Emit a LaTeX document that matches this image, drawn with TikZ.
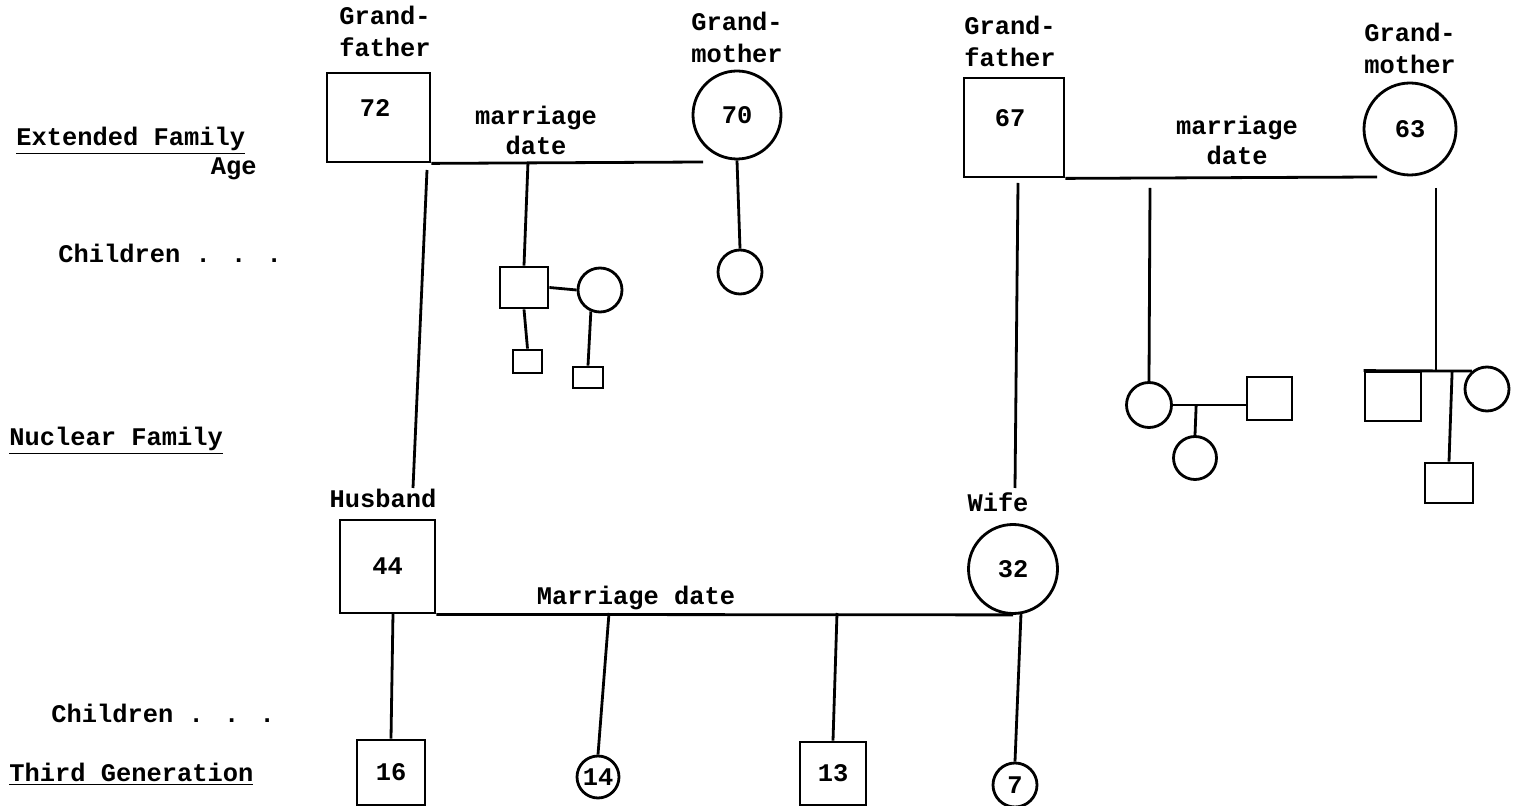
\documentclass[tikz,border=0pt]{standalone}
\usepackage{fontspec}
\setmainfont{Liberation Mono}
\usetikzlibrary{positioning, calc}

\begin{document}
\begin{tikzpicture}[x=0.5pt, y=-0.5pt, line width=1.4pt,
    male/.style 2 args={draw, rectangle, inner sep=0pt, minimum width=#1, minimum height=#2},
    female/.style={draw, circle, inner sep=0pt, minimum size=#1},
    txt/.style={font=\fontsize{12.7}{16}\selectfont\bfseries, inner sep=0pt, align=center},
    side/.style={font=\fontsize{12.7}{16}\selectfont\bfseries, inner sep=0pt, anchor=mid west}]

  \path[use as bounding box, fill=white] (0,0) rectangle (1515,806);

  % captions on the left
  \node[side] (ext) at (15,140) {\underline{Extended Family}};
  \node[txt, anchor=mid east] (age) at (258,169) {Age};
  \node[side] (kids1) at (57,257) {Children . . .};
  \node[side] (nuc) at (8,440) {\underline{Nuclear Family}};
  \node[side] (kids2) at (50,717) {Children . . .};
  \node[side] (third) at (8,776) {\underline{Third Generation}};

  % husband's parents
  \node[txt] (lgf1) at (385,31) {Grand-\\father};
  \node[male={51.5pt}{44.5pt}] (gf1) at (378.5,117.5) {};
  \node[txt] (n72) at (375,108) {72};
  \node[txt] (lgm1) at (737,37) {Grand-\\mother};
  \node[female=44pt, txt] (gm1) at (737,115) {70};
  \coordinate (m1) at (703,162);
  \draw (gf1.south east) -- (m1);
  \node[txt, font=\fontsize{12.7}{15}\selectfont\bfseries] (md1) at (536,130) {marriage\\date};

  \coordinate (k1) at (528,162);
  \node[male={24pt}{20.5pt}] (s1) at (524,287.5) {};
  \node[female=22pt] (c1) at (600,290) {};
  \node[male={14.5pt}{11.5pt}] (s2) at (527.5,361.5) {};
  \node[male={15pt}{10.5pt}] (s3) at (588,377.5) {};
  \node[female=22pt] (c2) at (740,272) {};
  \draw (k1) -- (s1.north);
  \draw (s1.east) -- (c1.west);
  \draw (s1.south) -- (s2.north);
  \draw (c1.247) -- (s3.north);
  \draw (gm1.south) -- (c2.north);

  % wife's parents
  \node[txt] (lgf2) at (1010,41) {Grand-\\father};
  \node[male={50pt}{49.5pt}] (gf2) at (1014,127.5) {};
  \node[txt] (n67) at (1010,118) {67};
  \node[txt] (lgm2) at (1410,48) {Grand-\\mother};
  \node[female=46pt, txt] (gm2) at (1410,129) {63};
  \coordinate (m2) at (1377,177);
  \draw (gf2.south east) -- (m2);
  \node[txt, font=\fontsize{12.7}{15}\selectfont\bfseries] (md2) at (1237,140) {marriage\\date};

  \coordinate (k2) at (1150,188);
  \coordinate (k3) at (1436,188);
  \node[female=22.5pt] (c3) at (1149,405) {};
  \node[male={22.5pt}{21.5pt}] (s4) at (1269.5,398.5) {};
  \node[female=21.5pt] (c4) at (1195,458) {};
  \draw (k2) -- (c3.north);
  \draw (c3.east) -- (s4.west |- c3.east);
  \draw ($(c3.east)!.32!(s4.west |- c3.east)$) -- (c4.north);

  \node[male={28pt}{24.5pt}] (s5) at (1393,396.5) {};
  \node[female=22pt] (c5) at (1487,389) {};
  \node[male={24pt}{20pt}] (s6) at (1449,483) {};
  \draw (s5.north west) -- (c5.130);
  \draw (k3) -- (k3 |- s5.north);
  \draw ($(s5.north east)!.6!(c5.130)$) -- (s6.north);

  % lines down to the couple
  \coordinate (g1) at (427,170);
  \coordinate (g2) at (413,488);
  \draw (g1) -- (g2);
  \coordinate (w1) at (1018,183);
  \coordinate (w2) at (1015,488);
  \draw (w1) -- (w2);

  % nuclear family
  \node[txt] (lhus) at (383,498) {Husband};
  \node[txt] (lwife) at (998,502) {Wife};
  \node[male={47.5pt}{46.5pt}, txt] (hus) at (387.5,566.5) {44};
  \node[female=44.5pt, txt] (wife) at (1013,569) {32};
  \draw (hus.south east) -- (wife.south);
  \node[txt] (md3) at (636,598) {Marriage date};

  \coordinate (b1) at (393,613);
  \coordinate (b2) at (609,613);
  \coordinate (b3) at (837,613);
  \node[male={34pt}{32.5pt}, txt] (k16) at (391,772.5) {16};
  \node[female=21pt, txt] (k14) at (598,777) {14};
  \node[male={33pt}{31.5pt}, txt] (k13) at (833,773.5) {13};
  \node[female=22pt, txt] (k7) at (1015,785) {7};
  \draw (b1) -- (k16.north);
  \draw (b2) -- (k14.north);
  \draw (b3) -- (k13.north);
  \draw (wife.-80) -- (k7.north);
\end{tikzpicture}
\end{document}
